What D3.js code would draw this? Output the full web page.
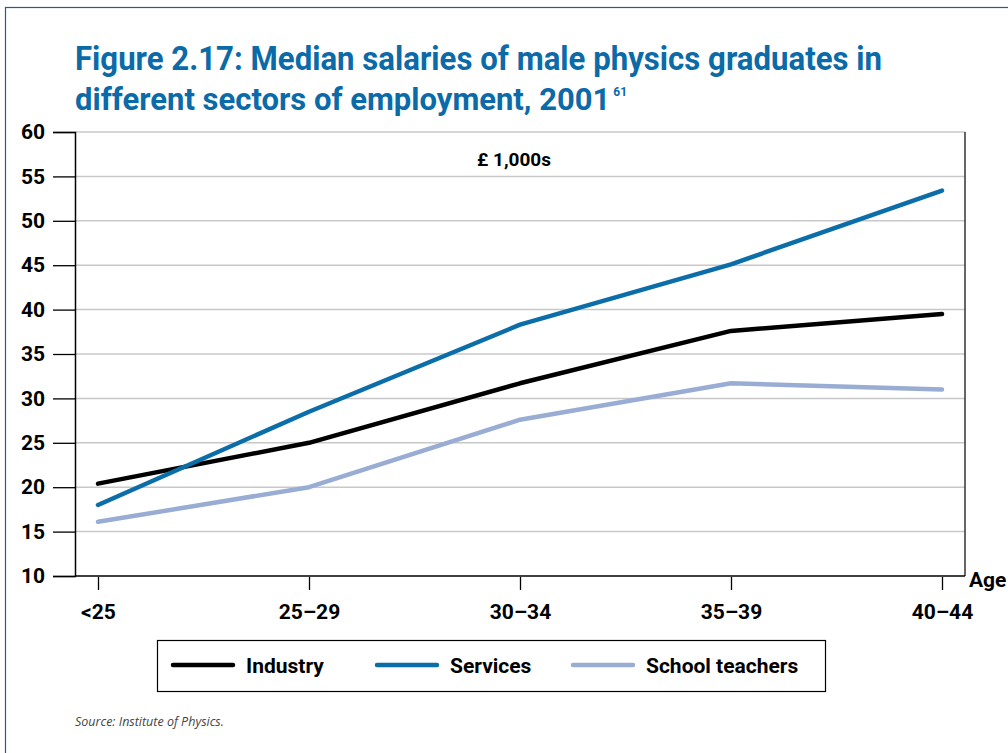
<!DOCTYPE html>
<html>
<head>
<meta charset="utf-8">
<script src="https://cdn.jsdelivr.net/npm/d3@7"></script>
<style>
  body { margin: 0; background: #fff; }
  svg { display: block; }
  .cond { font-family: Roboto, "Noto Sans", sans-serif; font-weight: bold; }
</style>
</head>
<body>
<div id="chart"></div>
<script>
// data (£ 1,000s)
const ages = ["<25", "25\u201329", "30\u201334", "35\u201339", "40\u201344"];
const industry = [20.4, 25.0, 31.7, 37.6, 39.5];
const services = [18.0, 28.5, 38.3, 45.1, 53.4];
const teachers = [16.1, 20.0, 27.6, 31.7, 31.0];
const yTicks = [10, 15, 20, 25, 30, 35, 40, 45, 50, 55, 60];

const seriesNames = ["Industry", "Services", "School teachers"];
const seriesColors = ["#000000", "#0b6ea8", "#99acd3"];
const series = [industry, services, teachers];

const width = 1008, height = 753;
const svg = d3.select("#chart").append("svg")
    .attr("width", width)
    .attr("height", height);

// outer frame
svg.append("rect")
    .attr("x", 5.5).attr("y", 7.5)
    .attr("width", 1010).attr("height", 760)
    .attr("fill", "none")
    .attr("stroke", "#2a5795")
    .attr("stroke-width", 1.2);

// title
const titleColor = "#0b6aa8";
svg.append("text")
    .attr("class", "cond")
    .attr("x", 75).attr("y", 70)
    .attr("fill", titleColor)
    .attr("font-size", 33)
    .attr("textLength", 807)
    .attr("lengthAdjust", "spacingAndGlyphs")
    .text("Figure 2.17: Median salaries of male physics graduates in");
const title2 = svg.append("text")
    .attr("class", "cond")
    .attr("x", 75).attr("y", 110)
    .attr("fill", titleColor)
    .attr("font-size", 31);
title2.append("tspan")
    .text("different sectors of employment, 2001");
title2.append("tspan")
    .attr("font-size", 12)
    .attr("dx", 3).attr("dy", -14)
    .text("61");

// scales
const plotLeft = 75, plotRight = 965, plotTop = 132, plotBottom = 576;
const x = d3.scalePoint().domain(ages).range([98, 942]);
const y = d3.scaleLinear().domain([10, 60]).range([plotBottom, plotTop]);

// gridlines
svg.append("g")
    .selectAll("line")
    .data(yTicks.filter(d => d > 10))
    .join("line")
    .attr("x1", plotLeft).attr("x2", plotRight)
    .attr("y1", d => y(d)).attr("y2", d => y(d))
    .attr("stroke", "#c8c8c8")
    .attr("stroke-width", 1.5);

// frame right side
svg.append("line")
    .attr("x1", plotRight).attr("x2", plotRight)
    .attr("y1", plotTop).attr("y2", plotBottom)
    .attr("stroke", "#333").attr("stroke-width", 1.5);

// y axis
const yAxis = svg.append("g")
    .attr("transform", `translate(${plotLeft},0)`)
    .call(d3.axisLeft(y).tickValues(yTicks).tickSize(22).tickPadding(8));
yAxis.select(".domain").attr("stroke", "#000").attr("stroke-width", 1.5);
yAxis.selectAll(".tick line").attr("stroke", "#000").attr("stroke-width", 1.3);
yAxis.selectAll(".tick text")
    .attr("class", "cond")
    .attr("font-size", 21)
    .attr("fill", "#000");

// bottom frame line
svg.append("line")
    .attr("x1", plotLeft).attr("x2", plotRight)
    .attr("y1", plotBottom).attr("y2", plotBottom)
    .attr("stroke", "#000").attr("stroke-width", 1.5);

// x axis
const xAxis = svg.append("g")
    .attr("transform", `translate(0,${plotBottom + 1})`)
    .call(d3.axisBottom(x).tickSize(13).tickPadding(14));
xAxis.select(".domain").remove();
xAxis.selectAll(".tick line").attr("stroke", "#000").attr("stroke-width", 1.3);
xAxis.selectAll(".tick text")
    .attr("class", "cond")
    .attr("font-size", 21)
    .attr("fill", "#000");

svg.append("text")
    .attr("class", "cond")
    .attr("x", 969).attr("y", 587)
    .attr("font-size", 21)
    .text("Age");

// unit label
svg.append("text")
    .attr("class", "cond")
    .attr("x", 514).attr("y", 166)
    .attr("text-anchor", "middle")
    .attr("font-size", 19)
    .text("\u00a3 1,000s");

// lines
const line = d3.line()
    .x((d, i) => x(ages[i]))
    .y(d => y(d));

svg.append("g")
    .selectAll("path")
    .data(series)
    .join("path")
    .attr("d", d => line(d))
    .attr("fill", "none")
    .attr("stroke", (d, i) => seriesColors[i])
    .attr("stroke-width", 4.5)
    .attr("stroke-linecap", "round")
    .attr("stroke-linejoin", "round");

// legend
svg.append("rect")
    .attr("x", 157.5).attr("y", 640.5)
    .attr("width", 668).attr("height", 51)
    .attr("fill", "none")
    .attr("stroke", "#000")
    .attr("stroke-width", 1.2);

const legendX = [173, 377, 573];
const legend = svg.append("g")
    .selectAll("g")
    .data(seriesNames)
    .join("g")
    .attr("transform", (d, i) => `translate(${legendX[i]},665)`);
legend.append("line")
    .attr("x1", 0).attr("x2", 60)
    .attr("stroke", (d, i) => seriesColors[i])
    .attr("stroke-width", 4.5)
    .attr("stroke-linecap", "round");
legend.append("text")
    .attr("class", "cond")
    .attr("x", 73).attr("y", 8)
    .attr("font-size", 21)
    .text(d => d);

// source
svg.append("text")
    .attr("x", 75).attr("y", 726)
    .attr("font-family", "'Open Sans', 'Noto Sans', sans-serif")
    .attr("font-style", "italic")
    .attr("font-size", 12.5)
    .attr("fill", "#444")
    .text("Source: Institute of Physics.");
</script>
</body>
</html>
